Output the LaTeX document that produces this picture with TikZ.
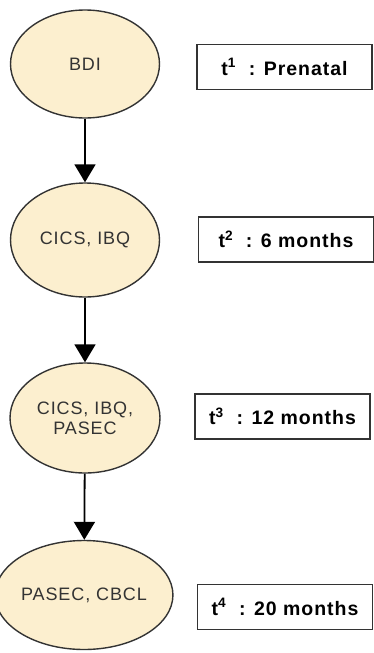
\documentclass[tikz,border=0pt]{standalone}
\usepackage{fontspec}
\setmainfont{Liberation Sans}
\newfontfamily\widesans[LetterSpace=5]{Liberation Sans}
\usetikzlibrary{shapes.geometric,arrows.meta}
\definecolor{tanfill}{HTML}{FCEFCF}
\definecolor{edge}{HTML}{333333}

\begin{document}
\begin{tikzpicture}[
  x=1pt, y=-1pt,
  >={Triangle[length=18pt, width=21pt]},
  visit/.style={ellipse, draw=edge, line width=1.4pt, fill=tanfill, inner sep=0pt, align=center, font=\widesans\fontsize{18}{20}\selectfont, text=black!80},
  stage/.style={draw=edge, line width=1.7pt, inner sep=0pt, minimum width=175pt, minimum height=45pt, font=\widesans\fontsize{19.5}{22}\selectfont\bfseries},
  flow/.style={->, line width=1.8pt},
]
\useasboundingbox (0,0) rectangle (374,653);

\node[visit, minimum width=149pt, minimum height=108pt] (e1) at (85,64)  {BDI};
\node[visit, minimum width=149pt, minimum height=114pt] (e2) at (85,240) {CICS, IBQ};
\node[visit, minimum width=150pt, minimum height=110pt] (e3) at (85,418) {CICS, IBQ,\\PASEC};
\node[visit, minimum width=152pt, minimum height=109pt] (e4) at (84,595) {PASEC, CBCL};

\node[stage] (t1) at (284.5,67)  {t\textsuperscript{1}\ \ : Prenatal};
\node[stage] (t2) at (286,239.5) {t\textsuperscript{2}\ \ : 6 months};
\node[stage] (t3) at (282.5,416.5) {t\textsuperscript{3}\ \ : 12 months};
\node[stage] (t4) at (285,607)   {t\textsuperscript{4}\ \ : 20 months};

\draw[flow] (e1) -- (e2);
\draw[flow] (e2) -- (e3);
\draw[flow] (e3) -- (e4);

\end{tikzpicture}
\end{document}
